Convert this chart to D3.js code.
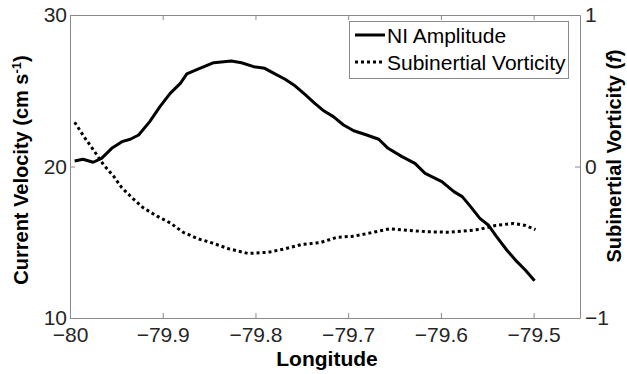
<!DOCTYPE html>
<html>
<head>
<meta charset="utf-8">
<script src="https://cdn.jsdelivr.net/npm/d3@7"></script>
<style>
  body { margin: 0; background: #fff; }
  svg { display: block; font-family: "Liberation Sans", Arial, sans-serif; }
</style>
</head>
<body>
<script>
// NI amplitude (cm/s) along longitude
const ampLon = [-79.995, -79.986, -79.975, -79.966, -79.955, -79.944, -79.935, -79.926, -79.914, -79.903,
  -79.892, -79.881, -79.874, -79.862, -79.845, -79.826, -79.815, -79.802, -79.790, -79.779,
  -79.768, -79.757, -79.746, -79.736, -79.726, -79.716, -79.705, -79.694, -79.680, -79.667,
  -79.657, -79.642, -79.628, -79.617, -79.599, -79.586, -79.577, -79.568, -79.558, -79.549,
  -79.540, -79.529, -79.518, -79.509, -79.499];
const ampVal = [20.36, 20.48, 20.28, 20.54, 21.20, 21.64, 21.80, 22.08, 22.96, 23.95,
  24.83, 25.49, 26.11, 26.42, 26.85, 26.96, 26.85, 26.59, 26.48, 26.11,
  25.76, 25.31, 24.72, 24.17, 23.66, 23.29, 22.74, 22.36, 22.08, 21.80,
  21.20, 20.65, 20.21, 19.55, 19.00, 18.34, 18.01, 17.35, 16.58, 16.14,
  15.37, 14.49, 13.72, 13.17, 12.46];

// subinertial vorticity (f) along longitude
const vortLon = [-79.995, -79.984, -79.975, -79.964, -79.953, -79.944, -79.933, -79.921, -79.906, -79.892,
  -79.878, -79.862, -79.847, -79.829, -79.808, -79.786, -79.768, -79.750, -79.730, -79.712,
  -79.694, -79.676, -79.655, -79.637, -79.615, -79.591, -79.577, -79.559, -79.541, -79.522,
  -79.509, -79.498];
const vortVal = [0.292, 0.189, 0.112, 0.013, -0.064, -0.141, -0.207, -0.273, -0.328, -0.372,
  -0.434, -0.477, -0.504, -0.543, -0.574, -0.566, -0.543, -0.515, -0.502, -0.467,
  -0.460, -0.438, -0.411, -0.420, -0.431, -0.434, -0.427, -0.416, -0.389, -0.376,
  -0.389, -0.416];

const xTicks = [-80, -79.9, -79.8, -79.7, -79.6, -79.5];
const yLeftTicks = [10, 20, 30];
const yRightTicks = [-1, 0, 1];

const width = 627, height = 374;
const margin = {top: 15, right: 47, bottom: 56, left: 70};
const axisColor = '#8a8a8a';
const labelColor = '#262626';

const svg = d3.select('body').append('svg')
  .attr('width', width)
  .attr('height', height);

const x = d3.scaleLinear([-80, -79.45], [margin.left, width - margin.right]);
const yL = d3.scaleLinear([10, 30], [height - margin.bottom, margin.top]);
const yR = d3.scaleLinear([-1, 1], [height - margin.bottom, margin.top]);

function styleAxis(g) {
  g.select('.domain').attr('stroke', axisColor);
  g.selectAll('.tick line').attr('stroke', axisColor);
  g.selectAll('.tick text')
    .attr('fill', labelColor)
    .attr('font-size', 21);
}

svg.append('g')
  .attr('transform', `translate(0,${height - margin.bottom})`)
  .call(d3.axisBottom(x).tickValues(xTicks).tickFormat(d3.format('')).tickSizeInner(-5).tickSizeOuter(0).tickPadding(9))
  .call(styleAxis);

svg.append('g')
  .attr('transform', `translate(0,${margin.top})`)
  .call(d3.axisTop(x).tickValues(xTicks).tickFormat('').tickSizeInner(-5).tickSizeOuter(0))
  .call(styleAxis);

svg.append('g')
  .attr('transform', `translate(${margin.left},0)`)
  .call(d3.axisLeft(yL).tickValues(yLeftTicks).tickFormat(d3.format('d')).tickSizeInner(-5).tickSizeOuter(0).tickPadding(3))
  .call(styleAxis);

svg.append('g')
  .attr('transform', `translate(${width - margin.right},0)`)
  .call(d3.axisRight(yR).tickValues(yRightTicks).tickFormat(d3.format('d')).tickSizeInner(-5).tickSizeOuter(0).tickPadding(5))
  .call(styleAxis);

// lines
const ampData = ampLon.map((d, i) => [d, ampVal[i]]);
const vortData = vortLon.map((d, i) => [d, vortVal[i]]);

svg.append('path')
  .datum(vortData)
  .attr('fill', 'none')
  .attr('stroke', '#000')
  .attr('stroke-width', 3)
  .attr('stroke-dasharray', '3,3')
  .attr('d', d3.line().x(d => x(d[0])).y(d => yR(d[1])));

svg.append('path')
  .datum(ampData)
  .attr('fill', 'none')
  .attr('stroke', '#000')
  .attr('stroke-width', 3)
  .attr('stroke-linejoin', 'round')
  .attr('d', d3.line().x(d => x(d[0])).y(d => yL(d[1])));

// axis titles
svg.append('text')
  .attr('x', 327)
  .attr('y', 366)
  .attr('text-anchor', 'middle')
  .attr('font-weight', 'bold')
  .attr('font-size', 21)
  .text('Longitude');

const leftTitle = svg.append('text')
  .attr('transform', 'translate(28,170) rotate(-90)')
  .attr('text-anchor', 'middle')
  .attr('font-weight', 'bold')
  .attr('font-size', 20);
leftTitle.append('tspan').text('Current Velocity (cm s');
leftTitle.append('tspan').attr('dy', -7).attr('font-size', 13).text('-1');
leftTitle.append('tspan').attr('dy', 7).text(')');

const rightTitle = svg.append('text')
  .attr('transform', 'translate(621,156) rotate(-90)')
  .attr('text-anchor', 'middle')
  .attr('font-weight', 'bold')
  .attr('font-size', 20);
rightTitle.append('tspan').text('Subinertial Vorticity (');
rightTitle.append('tspan').attr('font-style', 'italic').text('f');
rightTitle.append('tspan').text(')');

// legend
const legend = svg.append('g');
legend.append('rect')
  .attr('x', 349.5).attr('y', 21.5)
  .attr('width', 219).attr('height', 57)
  .attr('fill', '#fff')
  .attr('stroke', axisColor);

const legendItems = [
  {label: 'NI Amplitude', dash: null, y: 35},
  {label: 'Subinertial Vorticity', dash: '3,3', y: 62}
];
legendItems.forEach(item => {
  legend.append('line')
    .attr('x1', 355).attr('x2', 385)
    .attr('y1', item.y).attr('y2', item.y)
    .attr('stroke', '#000')
    .attr('stroke-width', 3)
    .attr('stroke-dasharray', item.dash);
  legend.append('text')
    .attr('x', 387)
    .attr('y', item.y + 8)
    .attr('font-size', 21)
    .attr('fill', '#000')
    .text(item.label);
});
</script>
</body>
</html>
